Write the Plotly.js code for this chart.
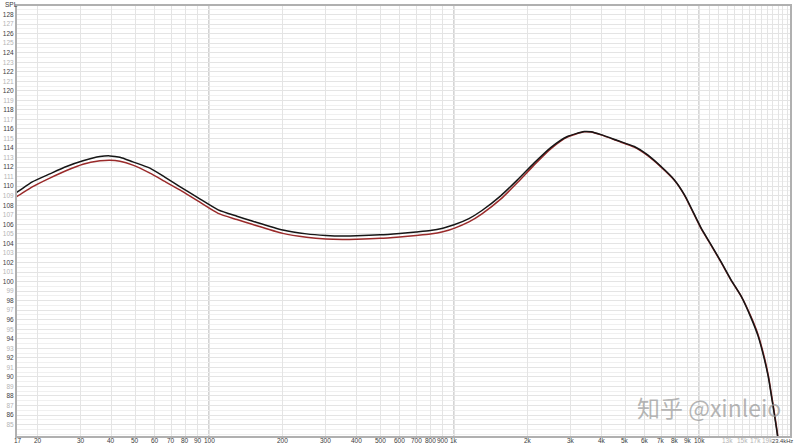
<!DOCTYPE html>
<html>
<head>
<meta charset="utf-8">
<script src="https://cdn.plot.ly/plotly-3.0.1.min.js"></script>
<style>
html,body{margin:0;padding:0;background:#fff;}
#chart{width:799px;height:443px;}
</style>
</head>
<body>
<div id="chart"></div>
<script>
// Frequencies (Hz)
const freqs = [16.4, 17, 19, 22.4, 26.2, 30.6, 35.9, 39.4, 43.3, 48.9, 57.4, 66, 76, 90, 109, 130, 150, 200, 250, 300, 350, 400, 500, 600, 700, 800, 900, 1000, 1150, 1300, 1550, 1815, 2120, 2480, 2900, 3400, 3620, 3980, 4650, 5440, 6170, 7000, 7930, 8720, 10200, 11200, 12300, 13500, 14900, 16300, 17400, 18500, 19200, 19700, 20300, 20900, 21700];
// SPL (dB) black curve
const splBlack = [109.35, 109.62, 110.45, 111.29, 112.06, 112.66, 113.11, 113.18, 113.04, 112.55, 111.89, 110.95, 109.96, 108.8, 107.52, 106.85, 106.35, 105.4, 105.0, 104.84, 104.78, 104.8, 104.9, 105.05, 105.2, 105.35, 105.6, 105.95, 106.6, 107.45, 108.99, 110.66, 112.42, 114.05, 115.21, 115.73, 115.7, 115.41, 114.79, 114.16, 113.29, 112.06, 110.66, 109.09, 105.6, 103.85, 102.06, 100.18, 98.39, 96.19, 94.3, 91.79, 89.9, 88.12, 86.02, 83.82, 80.0];
// SPL (dB) red curve
const splRed = [108.91, 109.15, 109.92, 110.84, 111.64, 112.31, 112.66, 112.73, 112.62, 112.21, 111.37, 110.5, 109.61, 108.45, 107.15, 106.5, 106.0, 105.05, 104.65, 104.47, 104.42, 104.44, 104.53, 104.68, 104.83, 104.98, 105.22, 105.58, 106.25, 107.1, 108.64, 110.38, 112.21, 113.92, 115.15, 115.7, 115.68, 115.38, 114.75, 114.1, 113.2, 112.0, 110.62, 109.05, 105.55, 103.8, 102.0, 100.15, 98.4, 96.3, 94.45, 91.95, 90.05, 88.3, 86.2, 84.0, 80.2];

// Tick labels (empty label = grid line only)
const xTickVals = [16.6, 20, 30, 40, 50, 60, 70, 80, 90, 100, 200, 300, 400, 500, 600, 700, 800, 900, 1000, 2000, 3000, 4000, 5000, 6000, 7000, 8000, 9000, 10000, 11000, 12000, 13000, 14000, 15000, 16000, 17000, 18000, 19000, 20000, 21000, 22000, 23000];
const xTickLabels = ['17', '20', '30', '40', '50', '60', '70', '80', '90', '100', '200', '300', '400', '500', '600', '700', '800', '900', '1k', '2k', '3k', '4k', '5k', '6k', '7k', '8k', '9k', '10k', '', '', '13k', '', '15k', '', '17k', '', '19k', '', '', '', ''];
const xLightLabels = ['13k', '15k', '17k', '19k'];
const decadeLines = [100, 1000, 10000];
const xEndLabel = '23.4kHz';
const yMin = 85, yMax = 128;

const DARK = '#3c3c3c', LIGHT = '#b4b4b4';
const yVals = [], yText = [];
for (let v = yMin; v <= yMax; v++) {
  yVals.push(v);
  yText.push(v % 2 === 0 ? String(v) : `<span style="color:${LIGHT}">${v}</span>`);
}

const traces = [
  {x: freqs, y: splRed, type: 'scatter', mode: 'lines', line: {color: '#9a2a2a', width: 1.5, shape: 'spline', smoothing: 0.6}, hoverinfo: 'skip'},
  {x: freqs, y: splBlack, type: 'scatter', mode: 'lines', line: {color: '#161616', width: 1.5, shape: 'spline', smoothing: 0.6}, hoverinfo: 'skip'}
];

// x tick labels drawn as annotations so they sit tight under the axis
const xLabelAnns = [];
xTickVals.forEach((v, i) => {
  const t = xTickLabels[i];
  if (!t) return;
  xLabelAnns.push({
    text: t, xref: 'x', yref: 'paper', x: Math.log10(v), y: 0,
    xanchor: 'center', yanchor: 'middle', yshift: -4.5, showarrow: false,
    font: {size: 6.5, color: xLightLabels.includes(t) ? LIGHT : DARK}
  });
});

const layout = {
  width: 799, height: 443,
  margin: {l: 17, r: 9, t: 6, b: 7, pad: 0},
  paper_bgcolor: '#ffffff', plot_bgcolor: '#ffffff',
  showlegend: false,
  font: {family: 'Liberation Sans, Arial, sans-serif', size: 6.5, color: DARK},
  xaxis: {
    type: 'log', range: [Math.log10(16.46), Math.log10(23500)],
    tickmode: 'array', tickvals: xTickVals, showticklabels: false,
    ticks: '', ticklen: 0, showgrid: true, gridcolor: '#e4e4e4', gridwidth: 1,
    showline: true, linecolor: '#b0b0b0', linewidth: 2, mirror: true,
    zeroline: false, automargin: false
  },
  yaxis: {
    range: [83.8, 128.9],
    tickmode: 'array', tickvals: yVals, ticktext: yText,
    ticks: '', ticklen: 0, showgrid: true, gridcolor: '#e4e4e4', gridwidth: 1,
    minor: {dtick: 0.5, tick0: 0, showgrid: true, gridcolor: '#f0f0f0', gridwidth: 1, ticks: ''},
    showline: true, linecolor: '#b0b0b0', linewidth: 2, mirror: true,
    zeroline: false, tickfont: {size: 6.5, color: DARK}, automargin: false
  },
  shapes: decadeLines.map(f => ({type: 'line', xref: 'x', yref: 'paper', x0: f, x1: f, y0: 0, y1: 1, layer: 'below', line: {color: '#c4c4c4', width: 1.5}})),
  annotations: xLabelAnns.concat([
    {text: 'SPL', xref: 'paper', yref: 'paper', x: 0, y: 1, xanchor: 'center', yanchor: 'middle', xshift: -6, yshift: 2, showarrow: false, font: {size: 6.5, color: DARK}},
    {text: xEndLabel, xref: 'paper', yref: 'paper', x: 1, y: 0, xanchor: 'right', yanchor: 'middle', xshift: 5, yshift: -4.5, showarrow: false, font: {size: 5.8, color: DARK}},
    {text: '知乎 @xinleio', xref: 'paper', yref: 'paper', x: 1, y: 0, xanchor: 'right', yanchor: 'bottom', xshift: -7, yshift: 10, showarrow: false, font: {family: 'Noto Sans CJK SC, Noto Sans, sans-serif', size: 23, color: 'rgba(150,150,150,0.7)'}}
  ])
};

Plotly.newPlot('chart', traces, layout, {staticPlot: true, displayModeBar: false});
</script>
</body>
</html>
